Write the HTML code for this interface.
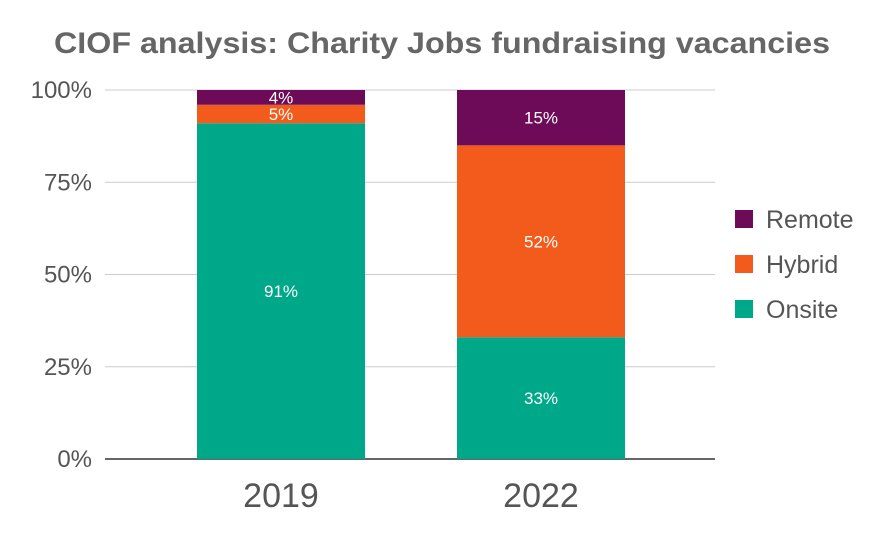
<!DOCTYPE html>
<html><head><meta charset="utf-8"><style>
body{margin:0;background:#fff;}
svg{display:block;font-family:"Liberation Sans",Arial,sans-serif;}
</style></head><body>
<svg id="chart" width="884" height="543">
<text x="442" y="53" text-anchor="middle" font-size="30" font-weight="bold" fill="#666" textLength="776" lengthAdjust="spacingAndGlyphs">CIOF analysis: Charity Jobs fundraising vacancies</text>
<g id="grid"></g><g id="bars"></g><g id="legend"></g>
</svg>
<script>
const categories=["2019","2022"];
const seriesNames=["Onsite","Hybrid","Remote"];
const onsite=[91,33];
const hybrid=[5,52];
const remote=[4,15];
const yTicks=[0,25,50,75,100];
const colors=["#00a88a","#f35b1c","#6e0b58"];
const ns="http://www.w3.org/2000/svg";
const y0=459,y1=90,xL=105,xR=715;
const y=v=>y0-(y0-y1)*v/100;
const xc=i=>281+260*i;
const bw=168;
function mk(t,a,p){const e=document.createElementNS(ns,t);for(const k in a)e.setAttribute(k,a[k]);p.appendChild(e);return e;}
const g=document.getElementById('grid');
yTicks.forEach(t=>{
 const l=mk('line',{x1:xL,x2:xR,y1:y(t),y2:y(t),stroke:t===0?'#333':'#ccc','stroke-width':t===0?1.5:1},g);
 
 
 const tx=mk('text',{x:92,y:y(t)+8,'text-anchor':'end','font-size':24,fill:'#555'},g);
 tx.textContent=t+'%';
 
 
});
const b=document.getElementById('bars');
const series=[onsite,hybrid,remote];
categories.forEach((c,i)=>{
 let acc=0;
 series.forEach((s,j)=>{
  const v=s[i];
  const r=mk('rect',{x:xc(i)-bw/2,y:y(acc+v),width:bw,height:y(acc)-y(acc+v),fill:colors[j]},b);
  
  
  const t=mk('text',{x:xc(i),y:(y(acc)+y(acc+v))/2+6,'text-anchor':'middle','font-size':17,fill:'#fff'},b);
  t.textContent=v+'%';
  
  
  acc+=v;
 });
 const xl=mk('text',{x:xc(i),y:507,'text-anchor':'middle','font-size':34,fill:'#555'},b);
 xl.textContent=c;
 
 
});
const lg=document.getElementById('legend');
[2,1,0].forEach((j,k)=>{
 const yy=219+45*k;
 const r=mk('rect',{x:735,y:yy-9,width:18,height:18,fill:colors[j]},lg);
 
 
 const t=mk('text',{x:766,y:yy+9,'font-size':25,fill:'#555'},lg);
 t.textContent=seriesNames[j];
 
 
});
</script>
</body></html>
